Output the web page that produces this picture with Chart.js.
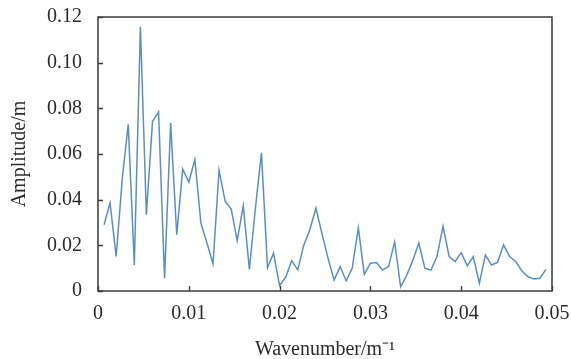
<!DOCTYPE html>
<html>
<head>
<meta charset="utf-8">
<script src="https://cdn.jsdelivr.net/npm/chart.js@4/dist/chart.umd.min.js"></script>
<style>
  html, body { margin: 0; padding: 0; background: #fff; }
  #wrap { width: 571px; height: 359px; }
</style>
</head>
<body>
<div id="wrap"><canvas id="spectrum" width="571" height="359"></canvas></div>
<script>
// wavenumber samples (1/m)
const wavenumbers = [
  0.00067, 0.00133, 0.00200, 0.00267, 0.00333, 0.00400, 0.00467, 0.00533, 0.00600, 0.00667,
  0.00733, 0.00800, 0.00867, 0.00933, 0.01000, 0.01067, 0.01133, 0.01200, 0.01267, 0.01333,
  0.01400, 0.01467, 0.01533, 0.01600, 0.01667, 0.01733, 0.01800, 0.01867, 0.01933, 0.02000,
  0.02067, 0.02133, 0.02200, 0.02267, 0.02333, 0.02400, 0.02467, 0.02533, 0.02600, 0.02667,
  0.02733, 0.02800, 0.02867, 0.02933, 0.03000, 0.03067, 0.03133, 0.03200, 0.03267, 0.03333,
  0.03400, 0.03467, 0.03533, 0.03600, 0.03667, 0.03733, 0.03800, 0.03867, 0.03933, 0.04000,
  0.04067, 0.04133, 0.04200, 0.04267, 0.04333, 0.04400, 0.04467, 0.04533, 0.04600, 0.04667,
  0.04733, 0.04800, 0.04867, 0.04933
];
// amplitude (m)
const amplitudes = [
  0.0290, 0.0386, 0.0151, 0.0490, 0.0730, 0.0114, 0.1157, 0.0334, 0.0742, 0.0784,
  0.0056, 0.0736, 0.0246, 0.0534, 0.0476, 0.0576, 0.0298, 0.0210, 0.0119, 0.0529,
  0.0393, 0.0359, 0.0221, 0.0374, 0.0094, 0.0360, 0.0605, 0.0102, 0.0166, 0.0023,
  0.0060, 0.0133, 0.0092, 0.0202, 0.0268, 0.0363, 0.0250, 0.0144, 0.0048, 0.0107,
  0.0045, 0.0100, 0.0276, 0.0073, 0.0122, 0.0125, 0.0092, 0.0107, 0.0215, 0.0018,
  0.0069, 0.0134, 0.0210, 0.0100, 0.0092, 0.0151, 0.0283, 0.0151, 0.0129, 0.0168,
  0.0111, 0.0151, 0.0034, 0.0158, 0.0114, 0.0125, 0.0202, 0.0151, 0.0129, 0.0089,
  0.0063, 0.0053, 0.0056, 0.0095
];
const xTicks = [0, 0.01, 0.02, 0.03, 0.04, 0.05];
const yTicks = [0, 0.02, 0.04, 0.06, 0.08, 0.10, 0.12];

const axisFont = { family: "'Liberation Serif', 'Times New Roman', serif", size: 20 };
const textColor = '#2b2b2b';
const frameColor = '#3a3a3a';

const points = wavenumbers.map((w, i) => ({ x: w, y: amplitudes[i] }));

// draw the box round the plot and the short inward ticks
const framePlugin = {
  id: 'frame',
  afterDraw(chart) {
    const { ctx, chartArea: a, scales } = chart;
    ctx.save();
    ctx.strokeStyle = frameColor;
    ctx.lineWidth = 1.5;
    ctx.strokeRect(a.left, a.top, a.right - a.left, a.bottom - a.top);
    ctx.lineWidth = 1.3;
    ctx.beginPath();
    xTicks.forEach(v => {
      const px = Math.round(scales.x.getPixelForValue(v)) + 0.5;
      ctx.moveTo(px, a.bottom);
      ctx.lineTo(px, a.bottom - 5);
    });
    yTicks.forEach(v => {
      const py = Math.round(scales.y.getPixelForValue(v)) + 0.5;
      ctx.moveTo(a.left, py);
      ctx.lineTo(a.left + 5, py);
    });
    ctx.stroke();
    ctx.restore();
  }
};

new Chart(document.getElementById('spectrum'), {
  type: 'line',
  data: {
    datasets: [{
      data: points,
      borderColor: '#5a8ec6',
      borderWidth: 1.5,
      pointRadius: 0,
      tension: 0,
      fill: false
    }]
  },
  options: {
    responsive: false,
    animation: false,
    layout: { padding: { top: 17, right: 19, left: 0, bottom: 0 } },
    plugins: { legend: { display: false }, tooltip: { enabled: false } },
    scales: {
      x: {
        type: 'linear',
        min: 0,
        max: 0.05,
        afterBuildTicks: s => { s.ticks = xTicks.map(v => ({ value: v })); },
        afterFit: s => { s.height = 68; s.paddingLeft = 0; s.paddingRight = 0; },
        grid: { display: false, drawTicks: false },
        border: { display: false },
        ticks: {
          font: axisFont,
          color: textColor,
          padding: 11,
          maxRotation: 0,
          callback: v => (v === 0 ? '0' : v.toFixed(2))
        },
        title: {
          display: true,
          text: 'Wavenumber/m⁻¹',
          font: axisFont,
          color: textColor,
          padding: { top: 11, bottom: -3 }
        }
      },
      y: {
        type: 'linear',
        min: 0,
        max: 0.12,
        afterBuildTicks: s => { s.ticks = yTicks.map(v => ({ value: v })); },
        afterFit: s => { s.width = 98; s.paddingTop = 0; s.paddingBottom = 0; },
        grid: { display: false, drawTicks: false },
        border: { display: false },
        ticks: {
          font: axisFont,
          color: textColor,
          padding: 16,
          callback: v => (v === 0 ? '0' : v.toFixed(2))
        },
        title: {
          display: true,
          text: 'Amplitude/m',
          font: axisFont,
          color: textColor,
          padding: { top: 8, bottom: 0 }
        }
      }
    }
  },
  plugins: [framePlugin]
});
</script>
</body>
</html>
